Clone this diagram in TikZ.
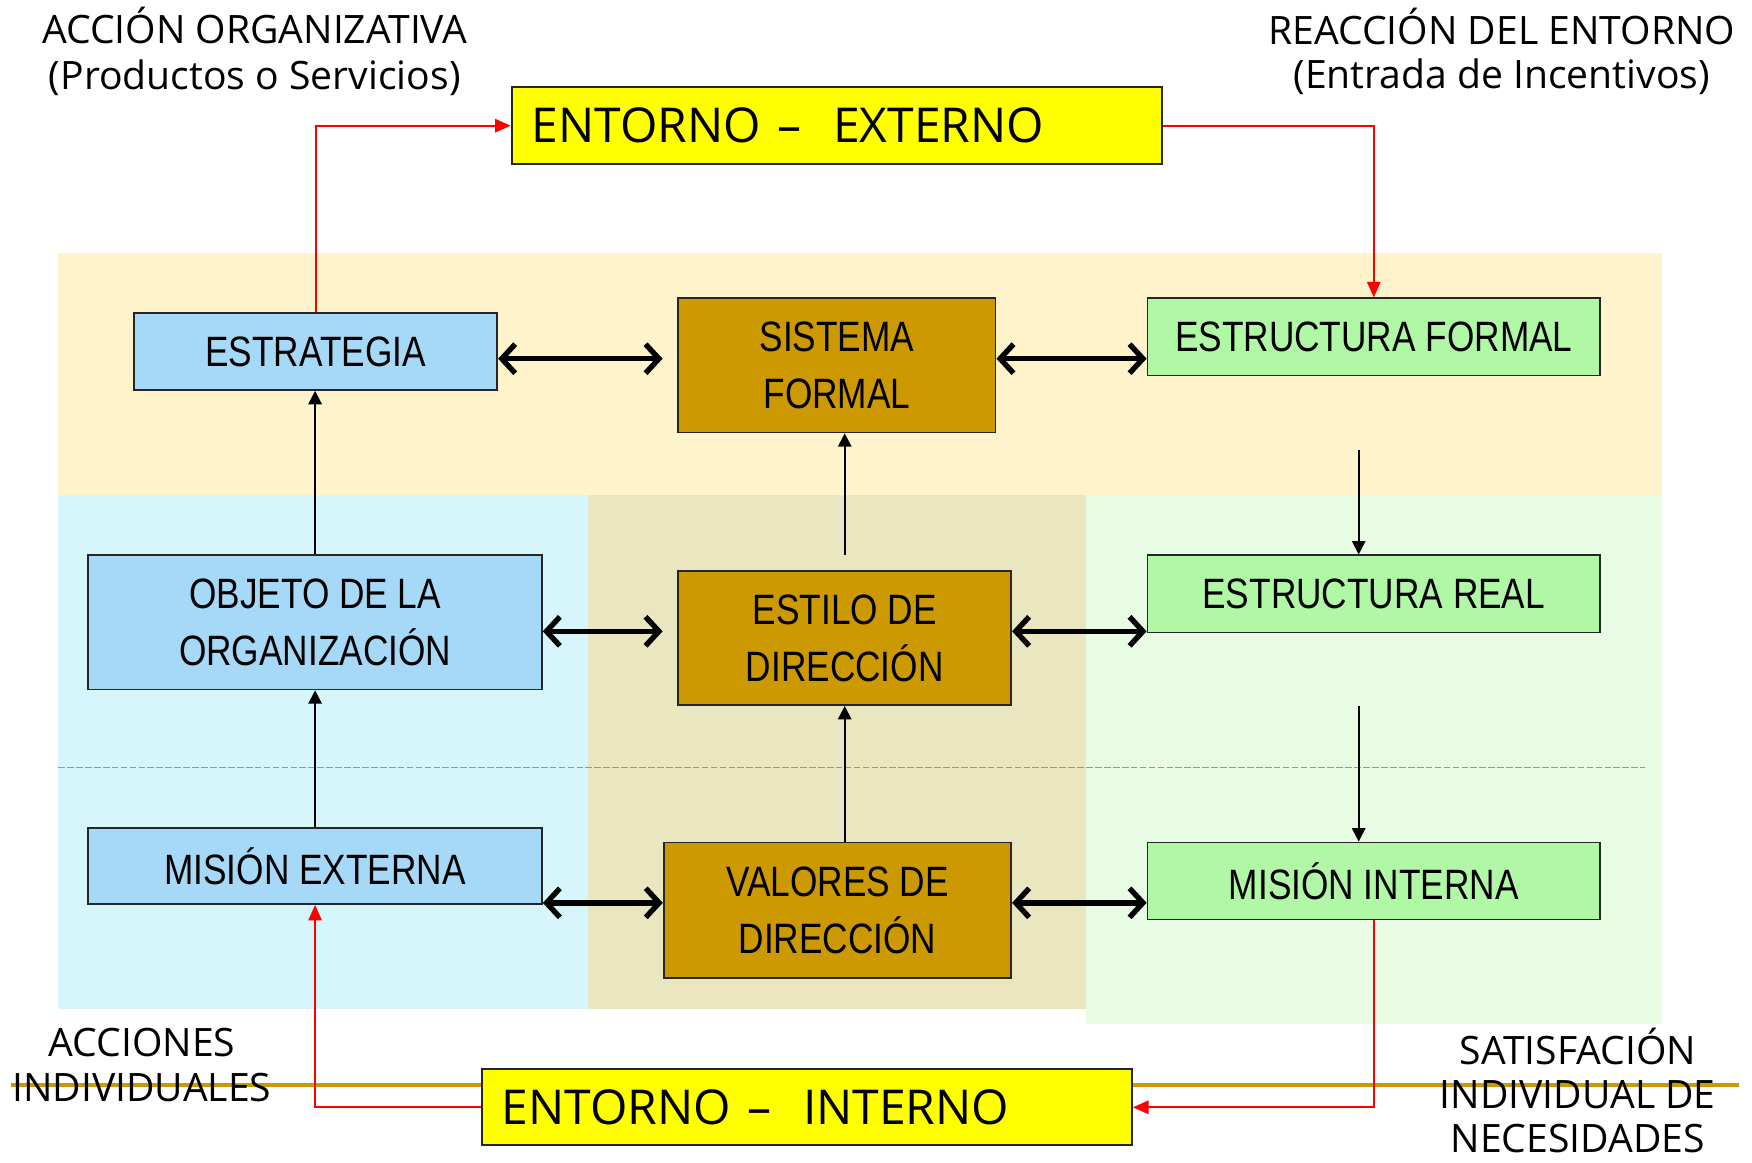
\documentclass[tikz,border=0pt]{standalone}
\usepackage{fontspec}
\usetikzlibrary{arrows.meta}
\newfontfamily\lblfont{Open Sans}
\newfontfamily\handfont{Liberation Sans}[FakeStretch=0.83]
\definecolor{bandY}{HTML}{FFF3CB}
\definecolor{bandB}{HTML}{D6F6FC}
\definecolor{bandK}{HTML}{EAE6C0}
\definecolor{bandG}{HTML}{E8FCE4}
\definecolor{boxB}{HTML}{A6D9F7}
\definecolor{boxBr}{HTML}{CC9900}
\definecolor{boxG}{HTML}{B0F8A6}
\definecolor{boxY}{HTML}{FFFF00}
\definecolor{gold}{HTML}{CC9900}
\begin{document}
\begin{tikzpicture}[x=0.5pt,y=-0.5pt,
  box/.style={draw=black!85,line width=0.8pt,inner sep=0pt,align=center,
    font=\handfont\fontsize{19}{25.5}\selectfont},
  bbox/.style={box,fill=boxB},
  brbox/.style={box,fill=boxBr},
  gbox/.style={box,fill=boxG},
  ybox/.style={draw=black!85,line width=0.9pt,fill=boxY,inner ysep=0pt,inner xsep=9pt,
    align=left,font=\lblfont\fontsize{21.5}{25}\selectfont},
  lbl/.style={align=center,inner sep=0pt,font=\lblfont\fontsize{17.5}{20.5}\selectfont},
  tarrow/.style={line width=0.8pt,-{Triangle[length=6pt,width=6pt]}},
  rarrow/.style={red,line width=0.8pt,-{Triangle[length=7pt,width=6pt]}},
  darrow/.style={line width=2.4pt,{Straight Barb[length=6pt,width=13pt]}-{Straight Barb[length=6pt,width=13pt]}}
]
\useasboundingbox (0,0) rectangle (1568,1040);
% bands
\fill[bandY] (52,226) rectangle (1487,443);
\fill[bandB] (52,443) rectangle (526,903);
\fill[bandK] (526,443) rectangle (972,903);
\fill[bandG] (972,443) rectangle (1487,916);
\draw[gold,line width=0.5pt,dash pattern=on 3pt off 1pt] (52,687) -- (1472,687);
\draw[gold,line width=2pt] (10,971) -- (1556,971);

% labels
\node[lbl] (l1) at (228,46) {ACCIÓN ORGANIZATIVA\\(Productos o Servicios)};
\node[lbl,font=\lblfont\fontsize{17.5}{20}\selectfont] (l2) at (1344,46) {REACCIÓN DEL ENTORNO\\(Entrada de Incentivos)};
\node[lbl,font=\lblfont\fontsize{17.5}{20}\selectfont] (l3) at (127,953) {ACCIONES\\INDIVIDUALES};
\node[lbl,font=\lblfont\fontsize{17.5}{19.5}\selectfont] (l4) at (1412,976) {SATISFACIÓN\\INDIVIDUAL DE\\NECESIDADES};

% boxes
\node[ybox,text width=273pt,minimum height=34.5pt] (ee) at (749,112.5) {ENTORNO –\ \ EXTERNO};
\node[ybox,text width=273pt,minimum height=34pt] (ei) at (722,991) {ENTORNO –\ \ INTERNO};

\node[bbox,minimum width=162.5pt,minimum height=34.5pt] (estr) at (282.5,314.5) {ESTRATEGIA};
\node[brbox,minimum width=142pt,minimum height=60pt] (sist) at (749,327) {SISTEMA\\FORMAL};
\node[gbox,minimum width=202.5pt,minimum height=34.5pt] (ef) at (1229.5,301.5) {ESTRUCTURA FORMAL};

\node[bbox,minimum width=203pt,minimum height=60pt] (obj) at (282,557) {OBJETO DE LA\\ORGANIZACIÓN};
\node[brbox,minimum width=149pt,minimum height=60pt] (est) at (756,571) {ESTILO DE\\DIRECCIÓN};
\node[gbox,minimum width=202.5pt,minimum height=34.5pt] (er) at (1229.5,531.5) {ESTRUCTURA REAL};

\node[bbox,minimum width=203pt,minimum height=34pt] (me) at (282,775) {MISIÓN EXTERNA};
\node[brbox,minimum width=155.5pt,minimum height=60.5pt] (val) at (749.5,814.5) {VALORES DE\\DIRECCIÓN};
\node[gbox,minimum width=202.5pt,minimum height=34.5pt] (mi) at (1229.5,788.5) {MISIÓN INTERNA};

% free coordinates
\coordinate (c1) at (756,497);
\coordinate (c2) at (1216,403);
\coordinate (c3) at (1216,632);
\coordinate (d1) at (593,321);
\coordinate (d2) at (593,565);
\coordinate (d3) at (594,808);

% black arrows
\draw[tarrow] (obj.north) -- (obj.north |- estr.south);
\draw[tarrow] (me.north) -- (obj.south);
\draw[tarrow] (c1) -- (c1 |- sist.south);
\draw[tarrow] (val.north -| est.south) -- (est.south);
\draw[tarrow] (c2) -- (c2 |- er.north);
\draw[tarrow] (c3) -- (c3 |- mi.north);

% double arrows
\draw[darrow] (estr.east |- d1) -- (d1);
\draw[darrow] (sist.east |- d1) -- (ef.west |- d1);
\draw[darrow] (obj.east |- d2) -- (d2);
\draw[darrow] (est.east |- d2) -- (er.west |- d2);
\draw[darrow] (me.east |- d3) -- (val.west |- d3);
\draw[darrow] (val.east |- d3) -- (mi.west |- d3);

% red arrows
\draw[rarrow] (estr.north) |- (ee.west);
\draw[rarrow] (ee.east) -| (ef.north);
\draw[rarrow] (mi.south) |- (ei.east);
\draw[rarrow] (ei.west) -| (me.south);
\end{tikzpicture}
\end{document}
